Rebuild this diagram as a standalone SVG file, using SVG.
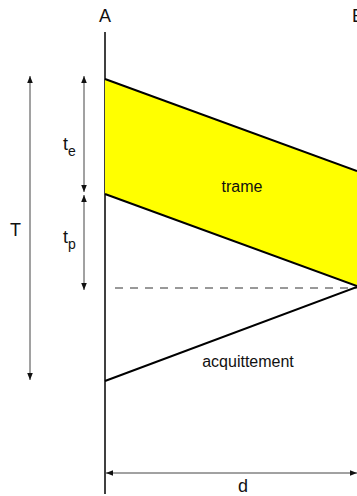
<svg xmlns="http://www.w3.org/2000/svg" width="357" height="496" viewBox="0 0 357 496">
<style>
.lbl{font-family:"Liberation Sans",Arial,sans-serif;fill:#111;}
.dim{stroke:#444;stroke-width:1;fill:none;}
.edge{stroke:#000;stroke-width:2;fill:none;}
</style>
<defs>
<marker id="ah" viewBox="0 0 10 10" refX="10" refY="5" markerWidth="7" markerHeight="7" orient="auto-start-reverse" markerUnits="userSpaceOnUse">
<path d="M0,1 L10,5 L0,9 z" fill="#111"/>
</marker>
</defs>
<rect width="357" height="496" fill="#fff"/>
<g id="axisA">
<line x1="105" y1="32" x2="105" y2="494" stroke="#000" stroke-width="1.5"/>
<text class="lbl" x="105" y="22" font-size="18" text-anchor="middle">A</text>
</g>
<g id="axisB">
<text class="lbl" x="352" y="22" font-size="18">B</text>
</g>
<g id="trame">
<polygon points="105,79 357,171 357,286 105,194" fill="#ffff00"/>
<line class="edge" x1="105" y1="79" x2="357" y2="171"/>
<line class="edge" x1="105" y1="194" x2="357" y2="286"/>
<text class="lbl" x="242" y="192" font-size="16" text-anchor="middle">trame</text>
</g>
<g id="acquittement">
<text class="lbl" x="248" y="367" font-size="16" text-anchor="middle">acquittement</text>
</g>
<g id="connectors">
<line x1="115" y1="288" x2="357" y2="288" stroke="#333" stroke-width="1" stroke-dasharray="8,7"/>
<line class="edge" x1="357" y1="287" x2="105" y2="381"/>
<line class="dim" x1="30" y1="76" x2="30" y2="380" marker-start="url(#ah)" marker-end="url(#ah)"/>
<line class="dim" x1="84" y1="76" x2="84" y2="192" marker-start="url(#ah)" marker-end="url(#ah)"/>
<line class="dim" x1="84" y1="195" x2="84" y2="290" marker-start="url(#ah)" marker-end="url(#ah)"/>
<line class="dim" x1="106" y1="473" x2="357" y2="473" marker-start="url(#ah)" marker-end="url(#ah)"/>
</g>
<g id="labels">
<text class="lbl" x="10" y="236" font-size="18">T</text>
<text class="lbl" x="63" y="150" font-size="18">t<tspan font-size="14" dy="6">e</tspan></text>
<text class="lbl" x="63" y="243" font-size="18">t<tspan font-size="14" dy="6">p</tspan></text>
<text class="lbl" x="243" y="492" font-size="18" text-anchor="middle">d</text>
</g>
</svg>
